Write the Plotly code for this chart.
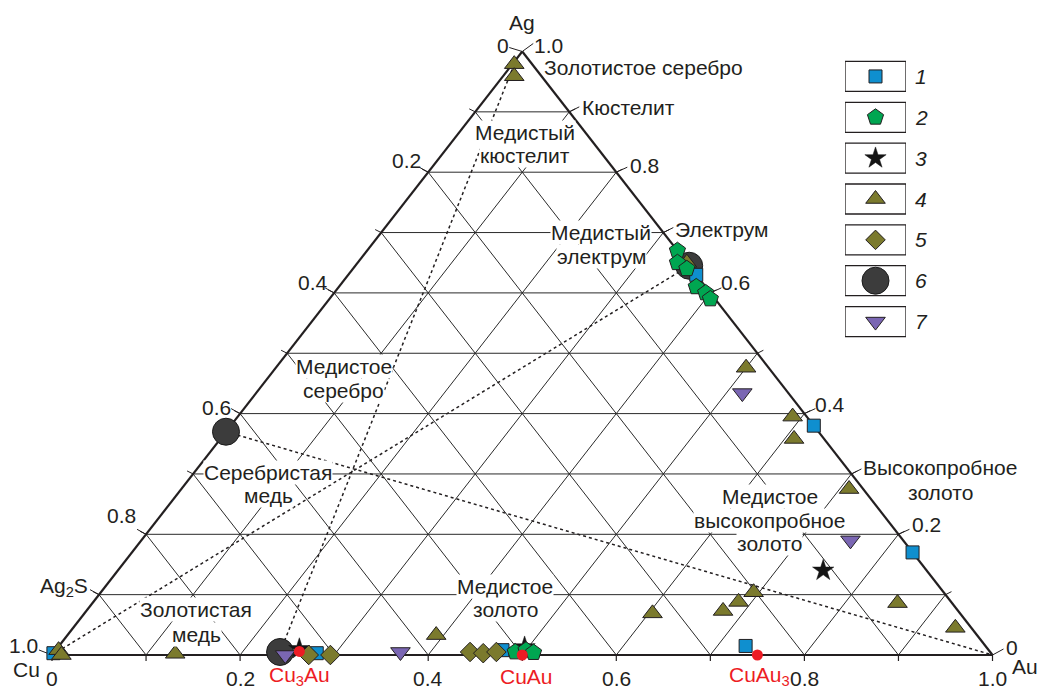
import plotly.graph_objects as go

W, H = 1040, 691
# pixel frame of the Cu-Au-Ag triangle: Cu corner and scale along X (=Au+Ag/2) and Ag
X0_PX, Y0_PX = 52.0, 655.0
SX, SY = 940.5, 603.5

INK = "#231f20"
FONT = "Liberation Sans, Arial, sans-serif"
FS = 21

# ---------------- data: mole fractions Au, Ag (Cu = 1 - Au - Ag) ----------------
# 1 - squares
sq_au = [0.62, 0.83, 0.73, 0.37, 0.28, 0.475, 0.0]
sq_ag = [0.38, 0.17, 0.015, 0.63, 0.003, 0.008, 0.003]
# 2 - pentagons
pen_au = [0.33, 0.34, 0.355, 0.38, 0.395, 0.405, 0.49, 0.50, 0.51]
pen_ag = [0.67, 0.65, 0.64, 0.61, 0.60, 0.59, 0.005, 0.008, 0.004]
# 3 - stars
star_au = [0.75, 0.496, 0.258]
star_ag = [0.14, 0.013, 0.010]
# 4 - triangles
tri_au = [0.002, 0.012, 0.35, 0.50, 0.59, 0.61, 0.71, 0.694, 0.686, 0.677, 0.604, 0.856, 0.938, 0.392, 0.13, 0.003, 0.01]
tri_ag = [0.979, 0.959, 0.65, 0.476, 0.395, 0.358, 0.275, 0.104, 0.088, 0.073, 0.069, 0.086, 0.045, 0.033, 0.002, 0.008, 0.0]
# 5 - diamonds
dia_au = [0.273, 0.296, 0.442, 0.457, 0.470]
dia_ag = [0.0, 0.0, 0.005, 0.003, 0.005]
# 6 - circles
cir_au = [0.0, 0.355, 0.24]
cir_ag = [0.37, 0.645, 0.005]
# 7 - inverted triangles
inv_au = [0.517, 0.754, 0.368, 0.248]
inv_ag = [0.434, 0.19, 0.005, 0.0]

# ordered intermetallic compounds on the Cu-Au join
cmp_names = ["Cu<sub>3</sub>Au", "CuAu", "CuAu<sub>3</sub>"]
cmp_au = [0.26, 0.50, 0.75]
cmp_ag = [0.006, 0.0, 0.0]

# dotted tie lines (Au, Ag of both ends)
tie_au = [[0.0, 0.355], [0.0, 1.0], [0.24, 0.002]]
tie_ag = [[0.0, 0.645], [0.37, 0.0], [0.005, 0.979]]

# tick values on the sides
ticks = [0.2, 0.4, 0.6, 0.8]
bottom_ticks = [0.0, 0.2, 0.4, 0.6, 0.8, 1.0]
legend_ids = ["1", "2", "3", "4", "5", "6", "7"]


def tern(au, ag):
    return [a + g / 2 for a, g in zip(au, ag)], list(ag)


def pt(au, ag):
    return au + ag / 2, ag


def off(x, y, dxp, dyp):
    """shift a data point by a pixel offset (dyp positive = downwards)"""
    return x + dxp / SX, y - dyp / SY


def at(xp, yp):
    return (xp - X0_PX) / SX, (Y0_PX - yp) / SY


fig = go.Figure()
shapes = []


def seg(p, q, width=1.0, color=INK, layer="below", xref="x", yref="y"):
    shapes.append(dict(type="line", x0=p[0], y0=p[1], x1=q[0], y1=q[1], xref=xref, yref=yref,
                       layer=layer, line=dict(color=color, width=width)))


# ---------------- grid at 0.1 steps ----------------
GRID = "#2a2a2a"
for k in range(1, 10):
    v = k / 10
    seg(pt(0, v), pt(1 - v, v), 1.0, GRID)          # constant Ag
    seg(pt(v, 0), pt(v, 1 - v), 1.0, GRID)          # constant Au
    seg(pt(1 - v, 0), pt(0, 1 - v), 1.0, GRID)      # constant Cu

# outer triangle
seg(pt(0, 0), pt(1, 0), 2.2)
seg(pt(0, 0), pt(0, 1), 2.2)
seg(pt(1, 0), pt(0, 1), 2.2)

# bottom ticks
for k in range(0, 11):
    p = pt(k / 10, 0)
    seg(p, off(*p, 0, 6), 1.2)

# short ticks where horizontal grid lines meet the sides
for k in range(1, 10):
    v = k / 10
    lp = pt(0, v)
    rp = pt(1 - v, v)
    seg(lp, off(*lp, -6, -3), 1.0)
    seg(rp, off(*rp, 6, -3), 1.0)

# leader lines for side labels
for v in ticks:
    lp = pt(0, 1 - v)  # Cu fraction on the left side
    seg(lp, off(*lp, -9, -5), 1.0)
    rp = pt(1 - v, v)  # Ag fraction on the right side
    seg(rp, off(*rp, 11, -5), 1.0)
apex = pt(0, 1)
seg(apex, off(*apex, -13, -4), 1.0)
seg(apex, off(*apex, 11, -8), 1.0)
cu = pt(0, 0)
seg(cu, off(*cu, -13, -5), 1.0)
au = pt(1, 0)
seg(au, off(*au, 11, -6), 1.0)
for v, side in [(0.9, "r"), (0.7, "r"), (0.3, "r"), (0.1, "l")]:
    p = pt(1 - v, v) if side == "r" else pt(0, v)
    seg(p, off(*p, 10 if side == "r" else -9, -5), 1.0)

# ---------------- dotted tie lines ----------------
for a, g in zip(tie_au, tie_ag):
    x, y = tern(a, g)
    fig.add_trace(go.Scatter(x=x, y=y, mode="lines", showlegend=False, hoverinfo="skip",
                             line=dict(color=INK, width=1.5, dash="dot")))

# ---------------- point series ----------------
OUT = dict(color=INK, width=1)
styles = {
    "1": dict(symbol="square", size=13, color="#0f8fcf", line=OUT),
    "2": dict(symbol="pentagon", size=17, color="#00a651", line=OUT),
    "3": dict(symbol="star", size=16, color="#141414", line=dict(color="#141414", width=0.5)),
    "4": dict(symbol="triangle-up", size=17, color="#7b7a2d", line=OUT),
    "5": dict(symbol="diamond", size=15, color="#7b7a2d", line=OUT),
    "6": dict(symbol="circle", size=27, color="#3c3c3c", line=dict(color="#1a1a1a", width=1)),
    "7": dict(symbol="triangle-down", size=17, color="#7a66b3", line=OUT),
}
series = {
    "1": (sq_au, sq_ag), "2": (pen_au, pen_ag), "3": (star_au, star_ag), "4": (tri_au, tri_ag),
    "5": (dia_au, dia_ag), "6": (cir_au, cir_ag), "7": (inv_au, inv_ag),
}
for sid in ["6", "3", "1", "4", "5", "2", "7"]:
    a, g = series[sid]
    x, y = tern(a, g)
    fig.add_trace(go.Scatter(x=x, y=y, mode="markers", name=sid, showlegend=False,
                             marker=styles[sid]))

cx, cy = tern(cmp_au, cmp_ag)
fig.add_trace(go.Scatter(x=cx, y=cy, mode="markers", showlegend=False,
                         marker=dict(symbol="circle", size=11, color="#ed1c24")))

# ---------------- legend column ----------------
for i, sid in enumerate(legend_ids, start=1):
    fig.add_trace(go.Scatter(x=[0.5], y=[i], mode="markers", showlegend=False,
                             xaxis="x2", yaxis="y2", marker=styles[sid]))
    shapes.append(dict(type="rect", xref="x2", yref="y2", x0=0, x1=1, y0=i - 0.367, y1=i + 0.367,
                       line=dict(color=INK, width=1.3), layer="below"))

# ---------------- texts ----------------
ann = []


def text(s, xp, yp, anchor="center", bg=None, color=INK, xref="x", yref="y", pos=None,
         yanchor="middle"):
    if pos is None:
        x, y = at(xp, yp)
    else:
        x, y = pos
    ann.append(dict(x=x, y=y, xref=xref, yref=yref, text=s, showarrow=False, xanchor=anchor,
                    yanchor=yanchor, bgcolor=bg, borderpad=0,
                    font=dict(family=FONT, size=FS, color=color)))


WHITE = "white"
text("Ag", 522, 22)
text("0", 503, 45)
text("1.0", 548, 45)
text("Золотистое серебро", 543, 67, "left")
text("Кюстелит", 581, 107, "left")
text("Медистый", 525, 132, bg=WHITE)
text("кюстелит", 525, 155, bg=WHITE)
text("Электрум", 674, 229, "left")
text("Медистый", 601, 232, bg=WHITE)
text("электрум", 601, 256, bg=WHITE)
text("Медистое", 344, 366, bg=WHITE)
text("серебро", 343, 390, bg=WHITE)
text("Серебристая", 268, 472, bg=WHITE)
text("медь", 268, 495, bg=WHITE)
text("Высокопробное", 862, 467, "left")
text("золото", 940, 492)
text("Медистое", 770, 496, bg=WHITE)
text("высокопробное", 769, 520, bg=WHITE)
text("золото", 769, 543, bg=WHITE)
text("Ag<sub>2</sub>S", 89, 587, "right")
text("Медистое", 505, 586, bg=WHITE)
text("золото", 505, 609, bg=WHITE)
text("Золотистая", 196, 609, bg=WHITE)
text("медь", 196, 634, bg=WHITE)
text("1.0", 23, 658, yanchor="bottom")
text("Cu", 26, 657, yanchor="top")
text("0", 1012, 647)
text("Au", 1025, 666)

# side tick labels
left_lab = {0.2: (406, 160), 0.4: (313, 282), 0.6: (216, 407), 0.8: (121, 515)}
right_lab = {0.8: (644, 165), 0.6: (735, 282), 0.4: (830, 404), 0.2: (926, 524)}
for v in ticks:
    text(f"{v:.1f}", *left_lab[v])
    text(f"{v:.1f}", *right_lab[v])
for v in bottom_ticks:
    x, _ = pt(v, 0)
    text("0" if v == 0 else f"{v:.1f}", 0, 0, pos=(x, at(0, 678)[1]))

# compound labels
shift = [0, 4, 2]
for name, x, s in zip(cmp_names, cx, shift):
    text(name, 0, 0, color="#ed1c24", pos=(x + s / SX, at(0, 676)[1]))

# legend numbers
for i, sid in enumerate(legend_ids, start=1):
    ann.append(dict(x=1, y=i, xref="x2", yref="y2", text=sid, showarrow=False, xanchor="left",
                    xshift=7, yanchor="middle",
                    font=dict(family=FONT, size=FS, color=INK, style="italic")))

fig.update_layout(
    width=W, height=H, margin=dict(l=0, r=0, t=0, b=0),
    paper_bgcolor="white", plot_bgcolor="white",
    xaxis=dict(range=[-X0_PX / SX, (W - X0_PX) / SX], domain=[0, 1], visible=False, fixedrange=True),
    yaxis=dict(range=[(Y0_PX - H) / SY, Y0_PX / SY], domain=[0, 1], visible=False, fixedrange=True),
    xaxis2=dict(range=[0, 1], domain=[845 / W, 906 / W], visible=False, anchor="y2", fixedrange=True),
    yaxis2=dict(range=[7.5, 0.5], domain=[1 - 342 / H, 1 - 56 / H], visible=False, anchor="x2",
                fixedrange=True),
    shapes=shapes, annotations=ann, showlegend=False,
)

fig.write_html("out.html")
